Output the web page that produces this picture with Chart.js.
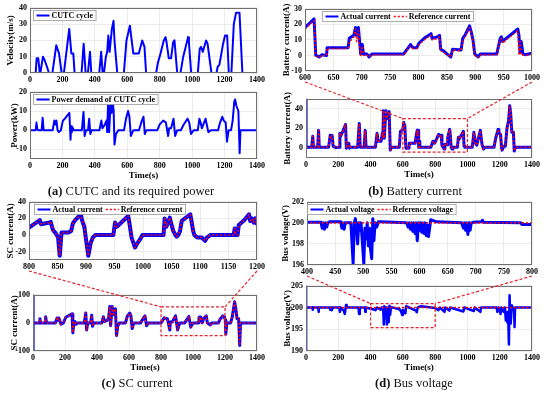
<!DOCTYPE html>
<html>
<head>
<meta charset="utf-8">
<script src="https://cdn.jsdelivr.net/npm/chart.js@4.4.0/dist/chart.umd.min.js"></script>
<style>
body { margin: 0; background: #fff; width: 550px; height: 396px; position: relative; overflow: hidden; }
canvas.plot { position: absolute; }
#links { position: absolute; left: 0; top: 0; pointer-events: none; }
.cap { position: absolute; font-family: "Liberation Serif", serif; font-size: 12.5px; line-height: 14px; color: #111; white-space: nowrap; transform: translateX(-50%); }
</style>
</head>
<body>
<canvas id="velChart" class="plot"></canvas>
<canvas id="powChart" class="plot"></canvas>
<canvas id="batZoomChart" class="plot"></canvas>
<canvas id="batChart" class="plot"></canvas>
<canvas id="scZoomChart" class="plot"></canvas>
<canvas id="scChart" class="plot"></canvas>
<canvas id="busZoomChart" class="plot"></canvas>
<canvas id="busChart" class="plot"></canvas>
<canvas id="links" width="550" height="396"></canvas>
<div class="cap" style="left:131px;top:184px"><b>(a)</b> CUTC and its required power</div>
<div class="cap" style="left:415px;top:184px"><b>(b)</b> Battery current</div>
<div class="cap" style="left:137px;top:376px"><b>(c)</b> SC current</div>
<div class="cap" style="left:414px;top:376px"><b>(d)</b> Bus voltage</div>
<script>
// ---- data ----
// (a) CUTC velocity, m/s
const velT = [
  0, 35, 41, 51, 60, 64, 80, 90, 104, 117,
  138, 162, 179, 195, 209, 242, 255, 267, 275, 318,
  331, 343, 357, 370, 378, 427, 439, 448, 456, 468,
  476, 483, 491, 505, 515, 521, 538, 579, 595, 616,
  637, 671, 692, 706, 716, 778, 788, 805, 825, 836,
  842, 856, 870, 883, 891, 908, 928, 945, 975, 980,
  994, 1035, 1047, 1055, 1066, 1086, 1095, 1119, 1150, 1158,
  1168, 1191, 1203, 1216, 1226, 1242, 1257, 1271, 1292, 1310,
  1400];
const velV = [
  0, 0, 9, 9, 0, 0, 10, 8, 4, 0,
  0, 17, 12, 0, 0, 27, 12, 12, 0, 0,
  18, 0, 0, 13, 0, 0, 13, 0, 0, 10,
  13, 23, 13, 27, 32, 20, 0, 0, 20, 29,
  12, 12, 20, 16, 0, 0, 6, 12, 20, 22,
  19, 9, 9, 19, 20, 0, 0, 10, 22, 19,
  0, 0, 15, 16, 13, 20, 18, 0, 0, 4,
  5, 18, 23, 23, 0, 0, 30, 37, 37, 0,
  0];

// (a) power demand, kW
const powT = [
  0, 35, 40, 45, 50, 72, 78, 84, 140, 150,
  156, 163, 170, 178, 190, 203, 215, 243, 250, 254,
  258, 262, 270, 320, 330, 337, 345, 358, 365, 372,
  380, 428, 440, 447, 462, 472, 476, 482, 488, 497,
  503, 510, 516, 521, 530, 545, 580, 592, 605, 613,
  622, 638, 672, 690, 700, 708, 718, 785, 800, 822,
  838, 852, 858, 870, 885, 895, 908, 930, 948, 972,
  982, 993, 1010, 1035, 1045, 1052, 1060, 1083, 1090, 1100,
  1115, 1160, 1172, 1186, 1195, 1207, 1215, 1225, 1240, 1250,
  1260, 1265, 1272, 1285, 1293, 1298, 1400];
const powV = [
  0, 0, 4, 0.5, 0, 0, 6.5, 0, 0, 5,
  3, 5, 0, -1, 0, 5, 6, 9, -5, 2,
  -1, 1.5, 0, 0, 9.5, -3, 0, 0, 6, -2,
  0, 0, 5, 1, 3, 5, -1, 15, -1, 14,
  9, 15, 10, -7.5, -2, 0, 0, 6, 10, 7,
  -3, 0, 0, 5, 7, -2, 0, 0, 3, 5,
  4, -3, 1, 1, 6, -3, 0, 0, 3, 6,
  4, -2, 0, 0, 6, 4, 1, 6, 3, -1,
  0, 0, 4, 7, 5, 4, -6, 0, 0, 5,
  15, 16, 13, 10, -12, 0, 0];

// (b) battery current 600-1000 s, A
const batZoomT = [
  600, 616, 619, 625, 630, 638, 639, 676, 678, 682,
  686, 689, 691, 694, 696, 698, 701, 703, 709, 713,
  718, 774, 786, 790, 797, 801, 810, 822, 824, 834,
  837, 839, 844, 850, 857, 860, 875, 878, 882, 890,
  893, 896, 899, 905, 909, 938, 944, 946, 948, 975,
  977, 979, 981, 984, 988, 1000];
const batZoomAct = [
  18, 23.5, 0, -1, 0.5, 0, 5, 5, 11, 12,
  13, 18, 13, 18, 10, 1, 7, 1, 1, -1,
  1, 1, 7, 5, 5, 8, 11, 14, 11, 12,
  13, 4, 3, 1, -1, 4, 3.5, 11, 13, 19,
  15, 10, 1, -1, 1, 1, 11, 12, 9, 17,
  13, 2, 9, 1, 0.5, 1.5];
const batZoomRef = [
  17, 22.5, -0.5, -1, 0, 0, 4.5, 4.5, 9, 10,
  12, 17, 9, 16, 6, 0, 6, 0, 0.5, -1,
  0.5, 0.5, 6, 4.5, 4.5, 7, 10, 13, 10, 11,
  12, 3, 2, 0.5, -1, 3.5, 3, 10, 12, 18,
  14, 9, 0, -1, 0.5, 0.5, 10, 11, 8, 16,
  0, 9, 0, 0.5, 0, 1];

// (b) battery current 0-1400 s, A
const batT = [
  0, 0.5, 35, 42, 46, 72, 78, 82, 140, 150,
  155, 162, 168, 185, 205, 210, 215, 245, 250, 255,
  265, 270, 275, 320, 330, 336, 360, 367, 372, 430,
  440, 447, 465, 473, 476, 480, 485, 495, 500, 515,
  522, 530, 578, 585, 600, 605, 612, 619, 638, 640,
  676, 682, 689, 691, 694, 698, 701, 705, 774, 786,
  797, 822, 834, 838, 842, 857, 860, 875, 878, 890,
  893, 899, 905, 910, 938, 944, 948, 975, 979, 984,
  1030, 1040, 1050, 1058, 1080, 1090, 1100, 1110, 1165, 1175,
  1190, 1195, 1205, 1212, 1215, 1225, 1235, 1245, 1255, 1262,
  1268, 1275, 1285, 1290, 1298, 1400];
const batV = [
  50, 1, 1, 12, 1, 1, 18, 1, 1, 13,
  10, 13, 2, 0.5, 1, 15, 12, 24, 0, 5,
  5, 0, 1, 1, 25, 1, 1, 18, 1, 1,
  15, 7, 7, 15, 10, 38, 10, 38, 30, 37,
  -2, 1, 1, 17, 19, 26, 23, 0, 0, 5,
  5, 12, 18, 13, 18, 1, 7, 1, 1, 7,
  5, 14, 12, 13, 3, -1, 4, 3.5, 11, 19,
  15, 1, -1, 1, 1, 11, 9, 17, 2, 1,
  1, 16, 5, 3, 18, 4, -1, 1, 1, 10,
  19, 15, 14, 0, -2, 2, 2, 20, 28, 43,
  35, 16, 16, -3, 1, 1];

// (c) SC current 800-1200 s, A
const scZoomT = [
  800, 819, 821, 836, 838, 842, 847, 851, 854, 857,
  869, 874, 877, 881, 891, 893, 897, 900, 904, 908,
  912, 916, 948, 951, 954, 974, 976, 980, 986, 990,
  995, 999, 1036, 1038, 1041, 1047, 1049, 1053, 1057, 1059,
  1062, 1065, 1068, 1083, 1085, 1088, 1090, 1095, 1103, 1109,
  1112, 1118, 1159, 1161, 1163, 1166, 1168, 1173, 1178, 1186,
  1188, 1191, 1194, 1197, 1199, 1200];
const scZoomV = [
  9, 18, 13, 15, 16, 6, 2, -3, -25, 3,
  3, 5, 14, 18, 25, 18, 10, -5, -25, -10,
  -3, 0, 0, 15, 10, 23, 15, -3, -15, -10,
  -5, 0, 0, 20, 10, 21, 15, 5, 0, -2,
  0, 5, 17, 25, 17, 5, 0, -3, -3, -7,
  -3, 0, 0, 8, 0, 0, 12, 15, 18, 25,
  17, 20, 15, 20, 14, 17];

// (c) SC current 0-1400 s, A
const scT = [
  0, 0.5, 1, 40, 43, 48, 75, 79, 85, 140,
  150, 156, 162, 175, 190, 205, 244, 249, 255, 262,
  268, 280, 320, 330, 335, 342, 360, 367, 372, 380,
  430, 440, 447, 465, 473, 480, 485, 495, 503, 515,
  522, 530, 540, 578, 590, 605, 612, 620, 630, 672,
  690, 700, 710, 720, 800, 820, 840, 855, 858, 870,
  891, 904, 916, 948, 974, 986, 999, 1036, 1038, 1041,
  1047, 1057, 1068, 1083, 1090, 1109, 1118, 1159, 1168, 1186,
  1197, 1202, 1205, 1212, 1235, 1245, 1260, 1268, 1275, 1285,
  1292, 1297, 1400];
const scV = [
  100, -100, 0, 0, 15, 0, 0, 22, 0, 0,
  17, 10, 17, -5, 0, 20, 32, -35, 0, 5,
  -5, 0, 0, 35, -25, 0, 0, 27, -12, 0,
  0, 22, 5, 10, 20, 58, -10, 58, 30, 50,
  -45, -10, 0, 0, 25, 35, 25, -20, 0, 0,
  17, 25, -10, 0, 0, 18, 15, -25, 3, 3,
  25, -25, 0, 0, 23, -15, 0, 0, 20, 10,
  21, 0, 17, 25, 0, -7, 0, 0, 12, 25,
  20, 10, -40, 0, 0, 20, 75, 50, 15, 15,
  -80, 0, 0];

// (d) bus voltage 400-800 s, V
const busZoomT = [
  400, 425, 427, 429, 431, 433, 435, 437, 440, 460,
  462, 464, 466, 468, 470, 478, 482, 484, 486, 488,
  490, 492, 494, 496, 498, 501, 503, 505, 507, 509,
  511, 513, 515, 517, 519, 521, 524, 527, 530, 577,
  580, 582, 584, 586, 588, 590, 592, 594, 596, 598,
  600, 602, 604, 606, 608, 610, 612, 614, 616, 620,
  630, 675, 678, 680, 682, 684, 686, 688, 690, 692,
  695, 710, 712, 714, 780, 782, 800];
const busZoomV = [
  200.05, 200.05, 199.5, 200, 199.4, 200, 199.6, 200, 200.1, 200.1,
  199.5, 200, 199.4, 200, 200, 200, 196.1, 200, 200.4, 199.5,
  198, 200, 199.3, 200, 198.5, 196.1, 199.5, 198.5, 200, 197.8,
  199.5, 197.5, 196.6, 200.4, 198.3, 200, 199.6, 200.1, 200.1, 200,
  199.6, 200, 199.4, 200, 199.2, 200, 199, 200, 198.3, 200,
  199.3, 200, 199.1, 200, 199, 200, 198.8, 199.8, 198.7, 200.3,
  200.1, 200, 199.5, 200, 199.3, 200, 198.9, 200, 199.3, 200,
  200.05, 200.1, 200.25, 200.05, 200, 199.85, 199.85];

// (d) bus voltage 0-1400 s, V
const busT = [
  0, 0.5, 1, 40, 42, 44, 76, 78, 80, 148,
  150, 155, 160, 165, 205, 210, 215, 235, 240, 244,
  248, 252, 325, 329, 333, 365, 367, 370, 427, 431,
  440, 462, 468, 478, 482, 485, 490, 496, 501, 505,
  509, 512, 517, 521, 527, 580, 590, 596, 600, 612,
  616, 620, 682, 686, 692, 712, 800, 820, 830, 858,
  862, 888, 893, 975, 980, 1040, 1045, 1080, 1085, 1180,
  1186, 1192, 1202, 1205, 1210, 1225, 1232, 1238, 1242, 1248,
  1252, 1257, 1261, 1264, 1268, 1275, 1280, 1289, 1292, 1295,
  1400];
const busV = [
  205, 190, 200, 200, 199.5, 200, 200, 199, 200, 200,
  199.5, 200, 199.4, 200, 200, 199, 200, 199.2, 198.5, 199.5,
  200.6, 200, 200, 198.5, 200, 200, 199, 200, 199.5, 199.4,
  200, 199.5, 200, 200, 196.1, 200.3, 198, 200, 196.1, 198.5,
  197.8, 196.6, 200.4, 198.3, 200.1, 199.6, 199, 198.3, 199.5, 198.8,
  198.7, 200.3, 199.3, 198.9, 200, 200.3, 199.9, 199.4, 200, 199,
  200, 199.3, 200, 199.1, 200, 199.2, 200, 199, 200, 200,
  199, 200, 199.8, 198.5, 200, 199, 200, 197, 199, 196.5,
  199, 191.5, 202.8, 199, 196.3, 200.5, 200, 199.5, 195.5, 200,
  200];
const busRefT = [0, 1400];
const busRefV = [200, 200];

// zoom windows: [t0, t1, yLow, yHigh]
const batWindow = [600, 1000, -4, 30];
const scWindow = [800, 1200, -45, 57];
const busWindow = [400, 800, 195.4, 200.9];

// tick labels
const timeTicks = [0, 200, 400, 600, 800, 1000, 1200, 1400];
const batZoomTicksX = [600, 650, 700, 750, 800, 850, 900, 950, 1000];
const scZoomTicksX = [800, 850, 900, 950, 1000, 1050, 1100, 1150, 1200];
const busZoomTicksX = [400, 450, 500, 550, 600, 650, 700, 750, 800];
const velTicks = [0, 10, 20, 30, 40];
const powTicks = [-10, 0, 10, 20];
const batZoomTicksY = [-10, 0, 10, 20, 30];
const batTicksY = [0, 20, 40];
const scZoomTicksY = [-20, 0, 20, 40];
const scTicksY = [-100, 0, 100];
const busZoomTicksY = [196, 198, 200, 202];
const busTicksY = [190, 195, 200, 205];

// ---- drawing ----
const BLUE = '#0000ff';
const RED = '#ff0000';
const DASH_RED = '#e8202a';
Chart.defaults.font.family = '"Liberation Serif", serif';

const tickFont = {family: '"Liberation Serif", serif', size: 8, weight: 'bold'};
const titleFont = {family: '"Liberation Serif", serif', size: 9, weight: 'bold'};

function series(t, v) {
    return t.map((x, i) => ({x: x, y: v[i]}));
}

function fixTicks(list) {
    return s => { s.ticks = list.map(v => ({value: v})); };
}

function plain(v) {
    return String(v);
}

function actual(label, t, v, w) {
    return {label: label, data: series(t, v), borderColor: BLUE, borderWidth: w, order: 1};
}

function reference(label, t, v) {
    return {label: label, data: series(t, v), borderColor: RED, borderWidth: 1.5, borderDash: [2, 2], order: 0};
}

// frame, zoom box and legend inside the plot
const framePlugin = {
    id: 'frame',
    afterDraw(chart, args, opts) {
        const ctx = chart.ctx;
        const a = chart.chartArea;
        ctx.save();
        ctx.strokeStyle = '#707070';
        ctx.lineWidth = 1;
        ctx.strokeRect(Math.round(a.left) + 0.5, Math.round(a.top) + 0.5,
            Math.round(a.right - a.left) - 1, Math.round(a.bottom - a.top) - 1);

        if (opts.box) {
            const b = opts.box;
            const x0 = chart.scales.x.getPixelForValue(b[0]);
            const x1 = chart.scales.x.getPixelForValue(b[1]);
            const y0 = chart.scales.y.getPixelForValue(b[2]);
            const y1 = chart.scales.y.getPixelForValue(b[3]);
            ctx.strokeStyle = DASH_RED;
            ctx.lineWidth = 1.2;
            ctx.setLineDash([3, 2]);
            ctx.strokeRect(x0, y1, x1 - x0, y0 - y1);
            ctx.setLineDash([]);
        }

        // legend box
        const items = chart.data.datasets.filter(d => d.label);
        if (items.length) {
            ctx.font = 'bold 8px "Liberation Serif", serif';
            let w = 3;
            items.forEach(d => { w += 15 + ctx.measureText(d.label).width + 3; });
            const h = 10;
            const x = Math.round(a.left + opts.legendDx) + 0.5;
            const y = Math.round(a.top + 2) + 0.5;
            ctx.fillStyle = '#fff';
            ctx.fillRect(x, y, w, h);
            ctx.strokeStyle = '#9a9a9a';
            ctx.lineWidth = 0.8;
            ctx.strokeRect(x, y, w, h);
            let cx = x + 3;
            items.forEach(d => {
                ctx.strokeStyle = d.borderColor;
                ctx.lineWidth = d.borderDash ? 1.5 : 2;
                ctx.setLineDash(d.borderDash || []);
                ctx.beginPath();
                ctx.moveTo(cx, y + h / 2);
                ctx.lineTo(cx + 13, y + h / 2);
                ctx.stroke();
                ctx.setLineDash([]);
                ctx.fillStyle = '#000';
                ctx.textBaseline = 'middle';
                ctx.fillText(d.label, cx + 15, y + h / 2 + 0.5);
                cx += 15 + ctx.measureText(d.label).width + 3;
            });
        }
        ctx.restore();
    }
};

function makeChart(id, o) {
    const [l, t, r, b] = o.rect;
    const xh = o.xTitle ? 22 : 12;
    const left = Math.round(o.titleX - 5);
    const top = t - 6;
    const cv = document.getElementById(id);
    cv.width = r - left + 12;
    cv.height = b - top + xh;
    cv.style.left = left + 'px';
    cv.style.top = top + 'px';
    const grid = {color: '#e4e4e4', lineWidth: 0.7, drawTicks: false};
    return new Chart(cv, {
        type: 'line',
        data: {datasets: o.datasets},
        options: {
            responsive: false,
            animation: false,
            devicePixelRatio: 1,
            layout: {padding: {top: 6, right: 12, left: 0, bottom: 0}},
            elements: {
                point: {radius: 0},
                line: {tension: 0, borderJoinStyle: 'round'}
            },
            plugins: {
                legend: {display: false},
                tooltip: {enabled: false},
                frame: {box: o.box || null, legendDx: o.legendDx}
            },
            scales: {
                x: {
                    type: 'linear',
                    min: o.xTicks[0],
                    max: o.xTicks[o.xTicks.length - 1],
                    afterBuildTicks: fixTicks(o.xTicks),
                    afterFit: s => { s.height = xh; },
                    grid: grid,
                    border: {display: false},
                    ticks: {font: tickFont, color: '#000', padding: 2, maxRotation: 0, autoSkip: false, callback: plain},
                    title: {display: !!o.xTitle, text: o.xTitle || '', font: titleFont, color: '#000', padding: 0}
                },
                y: {
                    min: o.yRange[0],
                    max: o.yRange[1],
                    afterBuildTicks: fixTicks(o.yTicks),
                    afterFit: s => { s.width = l - left; },
                    grid: grid,
                    border: {display: false},
                    ticks: {font: tickFont, color: '#000', padding: 3, autoSkip: false, callback: plain},
                    title: {display: true, text: o.yTitle, font: titleFont, color: '#000', padding: 0}
                }
            }
        },
        plugins: [framePlugin]
    });
}

const velChart = makeChart('velChart', {
    rect: [30, 6, 257, 73], titleX: 10, legendDx: 3,
    xTicks: timeTicks, yTicks: velTicks, yRange: [0, 40], yTitle: 'Velocity(m/s)',
    datasets: [actual('CUTC cycle', velT, velV, 2)]
});

const powChart = makeChart('powChart', {
    rect: [30, 90, 257, 159], titleX: 14, legendDx: 3,
    xTicks: timeTicks, yTicks: powTicks, yRange: [-15, 20], yTitle: 'Power(kW)', xTitle: 'Time(s)',
    datasets: [actual('Power demand of CUTC cycle', powT, powV, 2)]
});

const batZoomChart = makeChart('batZoomChart', {
    rect: [305, 7, 532, 71], titleX: 286, legendDx: 17,
    xTicks: batZoomTicksX, yTicks: batZoomTicksY, yRange: [-10, 30], yTitle: 'Battery current(A)',
    datasets: [
        actual('Actual current', batZoomT, batZoomAct, 3),
        reference('Reference current', batZoomT, batZoomRef)
    ]
});

const batChart = makeChart('batChart', {
    rect: [306, 97, 532, 158], titleX: 287, legendDx: 0, box: batWindow,
    xTicks: timeTicks, yTicks: batTicksY, yRange: [-10, 50], yTitle: 'Battery current(A)', xTitle: 'Time(s)',
    datasets: [
        actual('', batT, batV, 3),
        reference('', batT, batV)
    ]
});

const scZoomChart = makeChart('scZoomChart', {
    rect: [29, 200, 257, 260], titleX: 10, legendDx: 5,
    xTicks: scZoomTicksX, yTicks: scZoomTicksY, yRange: [-30, 40], yTitle: 'SC current(A)',
    datasets: [
        actual('Actual current', scZoomT, scZoomV, 4),
        reference('Reference current', scZoomT, scZoomV)
    ]
});

const scChart = makeChart('scChart', {
    rect: [33, 293, 257, 351], titleX: 14, legendDx: 0, box: scWindow,
    xTicks: timeTicks, yTicks: scTicksY, yRange: [-100, 100], yTitle: 'SC current(A)', xTitle: 'Time(s)',
    datasets: [
        actual('', scT, scV, 3),
        reference('', scT, scV)
    ]
});

const busZoomChart = makeChart('busZoomChart', {
    rect: [307, 200, 532, 265], titleX: 285, legendDx: 0,
    xTicks: busZoomTicksX, yTicks: busZoomTicksY, yRange: [196, 202], yTitle: 'Bus voltage(V)',
    datasets: [
        actual('Actual voltage', busZoomT, busZoomV, 3),
        reference('Reference voltage', busRefT, busRefV)
    ]
});

const busChart = makeChart('busChart', {
    rect: [306, 284, 532, 351], titleX: 287, legendDx: 0, box: busWindow,
    xTicks: timeTicks, yTicks: busTicksY, yRange: [190, 205], yTitle: 'Bus voltage(V)', xTitle: 'Time(s)',
    datasets: [
        actual('', busT, busV, 2.5),
        reference('', busRefT, busRefV)
    ]
});

// dashed lines from the zoomed plot's axis ends to the box below
function linkZoom(topChart, bottomChart, win) {
    const ctx = document.getElementById('links').getContext('2d');
    const tx = parseFloat(topChart.canvas.style.left);
    const ty = parseFloat(topChart.canvas.style.top);
    const bx = parseFloat(bottomChart.canvas.style.left);
    const by = parseFloat(bottomChart.canvas.style.top);
    const yStart = ty + topChart.scales.x.bottom - 1;
    const yEnd = by + bottomChart.scales.y.getPixelForValue(win[3]);
    ctx.save();
    ctx.strokeStyle = DASH_RED;
    ctx.lineWidth = 1.2;
    ctx.setLineDash([3, 2]);
    [0, 1].forEach(i => {
        ctx.beginPath();
        ctx.moveTo(tx + topChart.scales.x.getPixelForValue(win[i]), yStart);
        ctx.lineTo(bx + bottomChart.scales.x.getPixelForValue(win[i]), yEnd);
        ctx.stroke();
    });
    ctx.restore();
}

linkZoom(batZoomChart, batChart, batWindow);
linkZoom(scZoomChart, scChart, scWindow);
linkZoom(busZoomChart, busChart, busWindow);
</script>
</body>
</html>
